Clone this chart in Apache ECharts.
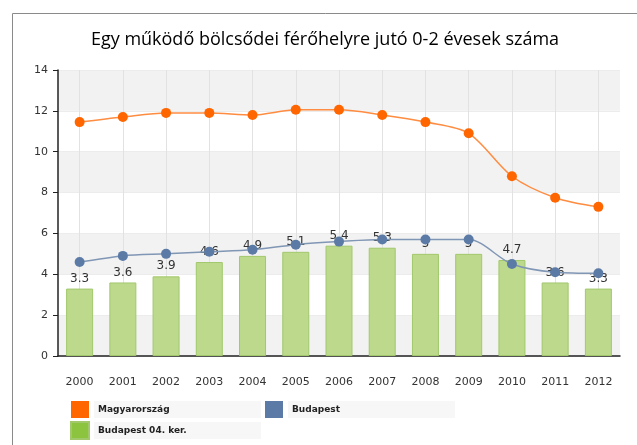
<!DOCTYPE html>
<html>
<head>
<meta charset="utf-8">
<script src="https://cdn.jsdelivr.net/npm/echarts@6/dist/echarts.min.js"></script>
<style>
html,body{margin:0;padding:0;background:#fff;}
#chart{width:637px;height:445px;}
</style>
</head>
<body>
<div id="chart"></div>
<script>
// Years on the category axis
var years = ['2000','2001','2002','2003','2004','2005','2006','2007','2008','2009','2010','2011','2012'];
// Children aged 0-2 per one operating nursery place
var magyarorszag = [11.45, 11.7, 11.9, 11.9, 11.8, 12.05, 12.05, 11.8, 11.45, 10.9, 8.8, 7.75, 7.3];
var budapest = [4.6, 4.9, 5.0, 5.1, 5.2, 5.45, 5.6, 5.7, 5.7, 5.7, 4.5, 4.1, 4.05];
var kerulet04 = [3.3, 3.6, 3.9, 4.6, 4.9, 5.1, 5.4, 5.3, 5, 5, 4.7, 3.6, 3.3];
var yTicks = [0, 2, 4, 6, 8, 10, 12, 14];

var chart = echarts.init(document.getElementById('chart'), null, {renderer: 'canvas'});

var axisFont = {fontFamily: 'DejaVu Sans', fontSize: 11, color: '#333'};

chart.setOption({
  animation: false,
  title: {
    text: 'Egy működő bölcsődei férőhelyre jutó 0-2 évesek száma',
    left: 320, top: 26, textAlign: 'center',
    textStyle: {fontFamily: 'Open Sans', fontSize: 18, fontWeight: 500, color: '#000'}
  },
  graphic: [{
    type: 'rect', silent: true, z: -10,
    shape: {x: 12.5, y: 13.5, width: 700, height: 500},
    style: {fill: 'none', stroke: '#8a8a8a', lineWidth: 1}
  }],
  legend: {
    left: 65, top: 396, width: 420,
    itemWidth: 18, itemHeight: 17, itemGap: 4,
    icon: 'rect',
    selectedMode: false,
    textStyle: {
      fontFamily: 'DejaVu Sans', fontSize: 9, fontWeight: 'bold', color: '#222',
      width: 163, height: 17, lineHeight: 17, padding: [0, 0, 0, 4],
      backgroundColor: '#f7f7f7'
    },
    data: [
      {name: 'Magyarország', itemStyle: {color: '#ff6600'}},
      {name: 'Budapest', itemStyle: {color: '#5b7ba6'}},
      {name: 'Budapest 04. ker.', itemStyle: {color: '#8cc43f'}}
    ]
  },
  grid: {left: 58, right: 17, top: 70, bottom: 89, containLabel: false},
  xAxis: {
    type: 'category', data: years, boundaryGap: true,
    axisLine: {lineStyle: {color: '#222', width: 1.5}},
    axisTick: {alignWithLabel: true, length: 5, lineStyle: {color: '#222'}},
    axisLabel: Object.assign({margin: 21}, axisFont),
    splitLine: {show: true, alignWithLabel: true, lineStyle: {color: '#e2e2e2'}}
  },
  yAxis: {
    type: 'value', min: 0, max: 14, interval: 2,
    axisLine: {show: true, lineStyle: {color: '#222', width: 1.5}},
    axisTick: {show: true, length: 5, lineStyle: {color: '#222'}},
    axisLabel: Object.assign({margin: 10, formatter: function (v) { return yTicks.indexOf(v) >= 0 ? String(v) : ''; }}, axisFont),
    splitLine: {show: true, lineStyle: {color: '#ececec'}},
    splitArea: {show: true, areaStyle: {color: ['#f2f2f2', '#ffffff']}}
  },
  series: [
    {
      name: 'Budapest 04. ker.', type: 'bar', data: kerulet04,
      barWidth: 27, z: 1,
      itemStyle: {color: '#bcd98c', borderColor: '#a2c86c', borderWidth: 1},
      label: {show: true, position: 'top', distance: 4,
        fontFamily: 'DejaVu Sans', fontSize: 12, color: '#333'}
    },
    {
      name: 'Magyarország', type: 'line', data: magyarorszag,
      smooth: 0.3, z: 3,
      symbol: 'circle', symbolSize: 10,
      itemStyle: {color: '#ff6600'},
      lineStyle: {color: '#ff8c40', width: 1.5}
    },
    {
      name: 'Budapest', type: 'line', data: budapest,
      smooth: 0.3, z: 2,
      symbol: 'circle', symbolSize: 10,
      itemStyle: {color: '#5b7ba6'},
      lineStyle: {color: '#8096b5', width: 1.5}
    }
  ]
});
</script>
</body>
</html>
